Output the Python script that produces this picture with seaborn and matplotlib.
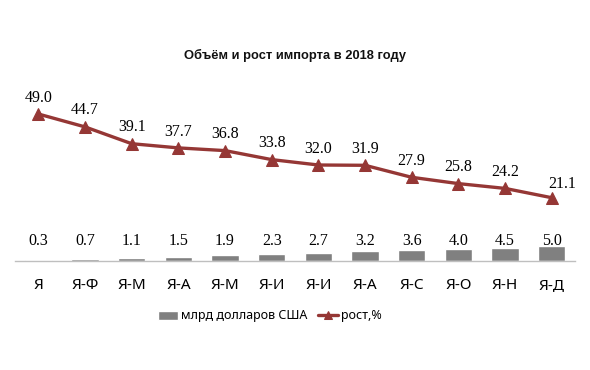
import matplotlib
matplotlib.use("Agg")
import matplotlib.pyplot as plt
import seaborn as sns
import pandas as pd
import numpy as np

categories = ["Я", "Я-Ф", "Я-М", "Я-А", "Я-М", "Я-И", "Я-И", "Я-А", "Я-С", "Я-О", "Я-Н", "Я-Д"]
volume = [0.3, 0.7, 1.1, 1.5, 1.9, 2.3, 2.7, 3.2, 3.6, 4.0, 4.5, 5.0]
growth = [49.0, 44.7, 39.1, 37.7, 36.8, 33.8, 32.0, 31.9, 27.9, 25.8, 24.2, 21.1]

sns.set_theme(style="white")
plt.rcParams['font.family'] = ['Liberation Serif', 'DejaVu Serif']
plt.rcParams['text.color'] = 'black'
plt.rcParams['xtick.color'] = 'black'

df = pd.DataFrame({"idx": np.arange(len(categories)), "volume": volume, "growth": growth})

fig = plt.figure(figsize=(5.9, 3.7), dpi=100)
ax = fig.add_axes([15/590, 109/370, 560/590, 180/370])

sns.barplot(data=df, x="idx", y="volume", color="#808080", saturation=1, width=0.58,
            ax=ax, label="млрд долларов США")
sns.lineplot(data=df, x="idx", y="growth", color="#953735", linewidth=2.4, marker="^",
             markersize=8, markeredgecolor="#953735", ax=ax, label="рост,%")

ax.set_xlim(-0.5, len(categories) - 0.5)
ax.set_ylim(0, 60)
ax.set_xticks(np.arange(len(categories)))
ax.set_xticklabels(categories, fontfamily="Noto Sans", fontsize=11, color="black")
ax.tick_params(axis="x", length=0, pad=12)
ax.set_yticks([])
ax.set_xlabel("")
ax.set_ylabel("")
for s in ["top", "left", "right"]:
    ax.spines[s].set_visible(False)
ax.spines["bottom"].set_color("#bfbfbf")
ax.spines["bottom"].set_linewidth(1)

for i, v in enumerate(volume):
    ax.text(i, 3.9, f"{v:.1f}", ha="center", va="bottom", fontsize=11.5, color="black")
for i, g in enumerate(growth):
    dx = 0.22 if i == len(growth) - 1 else 0
    dy = 2.8 if i != len(growth) - 1 else 2.0
    ax.text(i + dx, g + dy, f"{g:.1f}", ha="center", va="bottom", fontsize=11.5, color="black")

fig.text(0.5, 315/370, "Объём и рост импорта в 2018 году", ha="center", va="center",
         fontsize=9.3, fontweight="bold", color="#111111",
         family=["Liberation Sans", "DejaVu Sans"])

handles, labels = ax.get_legend_handles_labels()
order = [labels.index("млрд долларов США"), labels.index("рост,%")]
leg = ax.legend([handles[k] for k in order], [labels[k] for k in order],
                loc="center", ncol=2, frameon=False,
                prop={"family": "Noto Sans", "size": 9},
                handlelength=1.6, columnspacing=0.9, handletextpad=0.2, markerscale=0.8)
for t in leg.get_texts():
    t.set_color("black")
leg.set_bbox_to_anchor((270/590, 1 - 316/370), transform=fig.transFigure)

fig.savefig("out.png", dpi=100)
